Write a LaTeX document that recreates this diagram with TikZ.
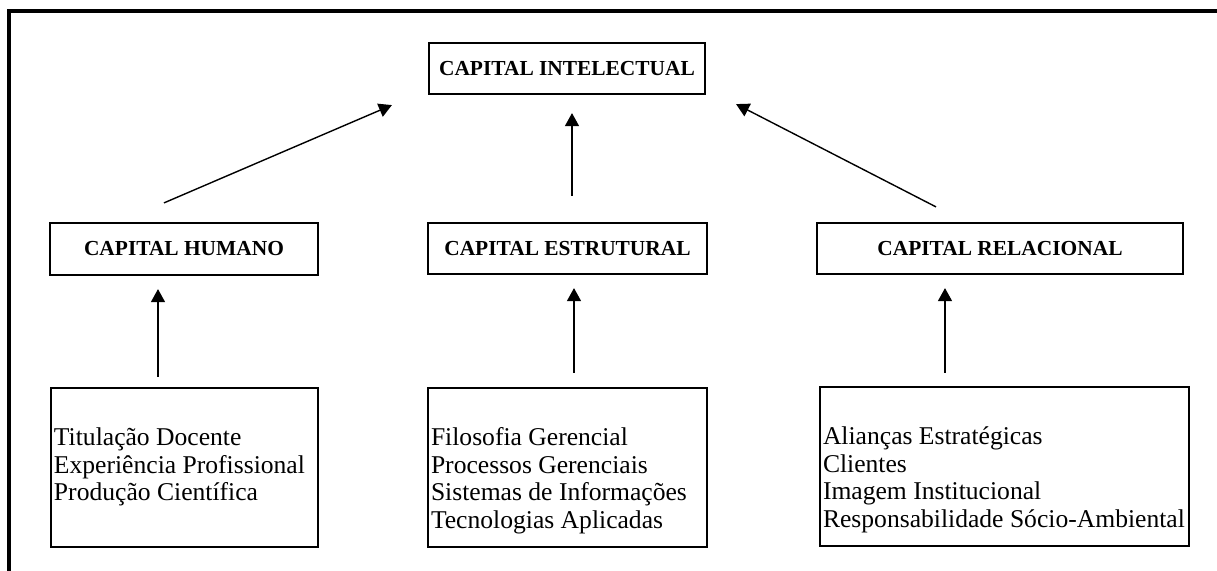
\documentclass[tikz,border=0pt]{standalone}
\usepackage{fontspec}
\setmainfont{Liberation Serif}
\usetikzlibrary{arrows.meta}
\newcommand{\itemlist}[2]{\parbox[c][79.5pt][t]{#1}{\fontsize{12.8}{13.75}\selectfont\leftskip=1.5pt\rule{0pt}{29pt}#2}}
\begin{document}
\begin{tikzpicture}[x=0.5pt,y=-0.5pt,
  head/.style={draw, line width=1.1pt, inner sep=0pt, font=\fontsize{10.7}{12}\selectfont\bfseries},
  list/.style={draw, line width=1.1pt, inner sep=0pt},
  arr/.style={line width=0.7pt, -{Triangle[length=6.5pt,width=7pt]}}]
\useasboundingbox (0,0) rectangle (1217,571);
\draw [line width=1.6pt] (1217,11) -- (9,11) -- (9,571);
\node [head, minimum width=138pt, minimum height=25.5pt] (ci) at (567,68.5) {CAPITAL INTELECTUAL};
\node [head, minimum width=134pt, minimum height=26pt] (hum) at (184,249) {CAPITAL HUMANO};
\node [head, minimum width=139.5pt, minimum height=25.5pt] (est) at (567.5,248.5) {CAPITAL ESTRUTURAL};
\node [head, minimum width=183pt, minimum height=25.5pt] (rel) at (1000,248.5) {CAPITAL RELACIONAL};
\node [list] (hlist) at (184.5,467.5) {\itemlist{133.5pt}{Titulação Docente\\Experiência Profissional\\Produção Científica}};
\node [list] (elist) at (567.5,467.5) {\itemlist{139.5pt}{Filosofia Gerencial\\Processos Gerenciais\\Sistemas de Informações\\Tecnologias Aplicadas}};
\node [list] (rlist) at (1004.5,466.5) {\itemlist{184.5pt}{Alianças Estratégicas\\Clientes\\Imagem Institucional\\Responsabilidade Sócio-Ambiental}};
\draw [arr] ([xshift=-10pt,yshift=9.5pt]hum.north) -- ([xshift=-18pt,yshift=-5pt]ci.south west);
\draw [arr] ([xshift=2.25pt,yshift=13pt]est.north) -- ([xshift=2.5pt,yshift=-9pt]ci.south);
\draw [arr] ([xshift=-32pt,yshift=7.5pt]rel.north) -- ([xshift=15pt,yshift=-4.5pt]ci.south east);
\draw [arr] ([xshift=-13.25pt,yshift=5pt]hlist.north) -- ([xshift=-13pt,yshift=-6.5pt]hum.south);
\draw [arr] ([xshift=3.25pt,yshift=7pt]elist.north) -- ([xshift=3.25pt,yshift=-6.5pt]est.south);
\draw [arr] ([xshift=-29.75pt,yshift=6.5pt]rlist.north) -- ([xshift=-27.5pt,yshift=-6.5pt]rel.south);
\end{tikzpicture}
\end{document}
